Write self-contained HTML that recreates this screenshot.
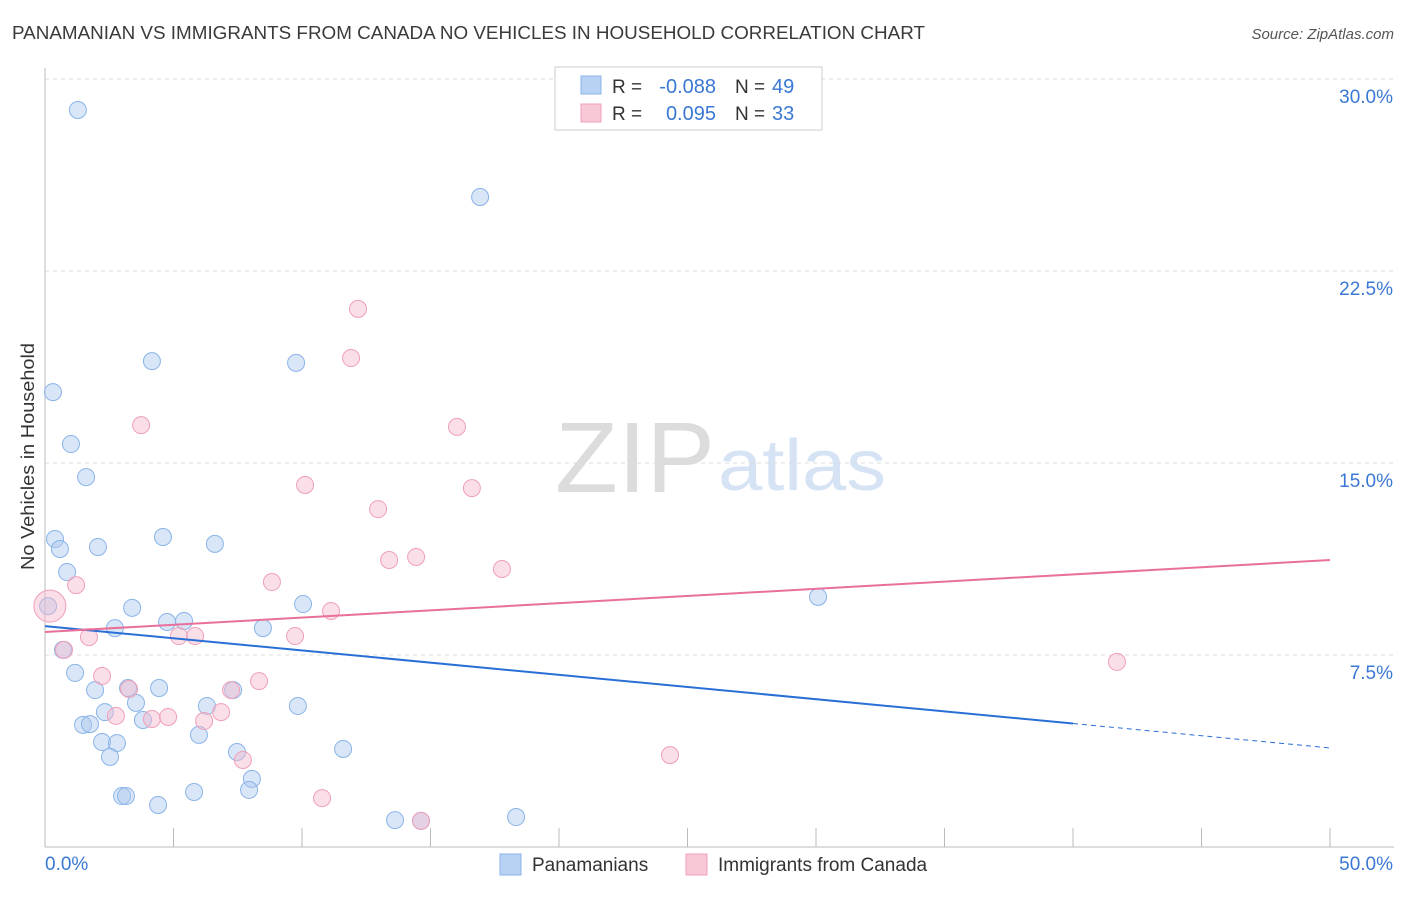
<!DOCTYPE html>
<html><head><meta charset="utf-8"><style>
body{margin:0;background:#fff;font-family:"Liberation Sans",sans-serif;}
svg text{font-family:"Liberation Sans",sans-serif;}
</style></head><body>
<svg id="chart" width="1406" height="892" xmlns="http://www.w3.org/2000/svg">
<text x="12" y="39" font-size="18" fill="#3a3a3a" textLength="913" lengthAdjust="spacingAndGlyphs">PANAMANIAN VS IMMIGRANTS FROM CANADA NO VEHICLES IN HOUSEHOLD CORRELATION CHART</text>
<text x="1394" y="39" font-size="15" fill="#555" text-anchor="end" font-style="italic">Source: ZipAtlas.com</text>
<text transform="translate(34,570) rotate(-90)" font-size="18" fill="#333" textLength="227" lengthAdjust="spacingAndGlyphs">No Vehicles in Household</text>
<g>
<text x="555" y="492" font-size="100" fill="#dcdcdc" font-family="Liberation Serif" textLength="160" lengthAdjust="spacingAndGlyphs">ZIP</text>
<text x="718" y="490" font-size="72" fill="#d6e3f5" textLength="168" lengthAdjust="spacingAndGlyphs">atlas</text>
</g>
<g id="grid"></g>
<g id="axes"></g>
<g id="marks"></g>
<g>
<rect x="555" y="67" width="267" height="63" fill="#fff" stroke="#ccc"/>
<rect x="581" y="76" width="20" height="18" fill="#b8d2f4" stroke="#8ab4e8"/>
<rect x="581" y="104" width="20" height="18" fill="#f9c8d6" stroke="#f0a0b8"/>
<text x="612" y="93" font-size="19" fill="#333">R =</text>
<text x="716" y="93" font-size="20" fill="#3a78d4" text-anchor="end">-0.088</text>
<text x="735" y="93" font-size="19" fill="#333">N =</text>
<text x="772" y="93" font-size="20" fill="#3a78d4">49</text>
<text x="612" y="120" font-size="19" fill="#333">R =</text>
<text x="716" y="120" font-size="20" fill="#3a78d4" text-anchor="end">0.095</text>
<text x="735" y="120" font-size="19" fill="#333">N =</text>
<text x="772" y="120" font-size="20" fill="#3a78d4">33</text>
</g>
<g>
<rect x="500" y="854" width="21" height="21" fill="#b8d2f4" stroke="#8ab4e8"/>
<text x="532" y="871" font-size="19" fill="#333">Panamanians</text>
<rect x="686" y="854" width="21" height="21" fill="#f9c8d6" stroke="#f0a0b8"/>
<text x="718" y="871" font-size="19" fill="#333">Immigrants from Canada</text>
</g>
</svg>
<script>
const yTicks=[7.5,15,22.5,30];
const yTickLabels=["7.5%","15.0%","22.5%","30.0%"];
const xTicks=[0,5,10,15,20,25,30,35,40,45,50];
const blueX=[1.28,16.93,0.31,4.16,9.77,1.01,1.60,0.39,0.58,2.06,4.59,6.61,0.86,0.12,3.39,10.04,30.08,2.72,4.75,5.41,8.48,0.70,1.17,1.95,3.23,4.44,7.32,3.54,6.30,9.84,2.33,1.48,1.75,3.81,2.22,2.80,5.99,7.47,11.60,2.53,8.05,7.94,5.80,3.00,3.15,4.40,13.62,14.63,18.33];
const blueY=[28.79,25.39,17.77,18.98,18.91,15.74,14.45,12.03,11.64,11.72,12.11,11.84,10.74,9.41,9.34,9.49,9.77,8.55,8.79,8.83,8.55,7.70,6.80,6.13,6.21,6.21,6.13,5.63,5.51,5.51,5.27,4.77,4.80,4.96,4.10,4.06,4.38,3.71,3.83,3.52,2.66,2.23,2.15,1.99,1.99,1.64,1.05,1.02,1.17];
const pinkX=[12.18,11.91,3.74,16.03,10.12,16.61,12.96,1.21,8.83,13.39,14.44,17.78,11.13,1.71,5.21,5.84,9.73,0.74,41.71,2.22,8.33,3.27,7.24,2.76,4.16,4.79,6.19,6.85,7.70,24.32,10.78,14.63,0.19];
const pinkY=[21.02,19.10,16.48,16.41,14.14,14.02,13.20,10.23,10.35,11.21,11.33,10.86,9.22,8.20,8.24,8.24,8.24,7.70,7.23,6.68,6.48,6.17,6.13,5.12,5.00,5.08,4.92,5.27,3.40,3.59,1.91,1.02,9.41];
const blueTrend=[8.63,3.87];
const blueSolidEnd=40;
const pinkTrend=[8.40,11.21];
const X0=45,X1=1330,Y0=847,PXPER=25.6;
const sx=v=>X0+(X1-X0)*v/50;
const sy=v=>Y0-v*PXPER;
const NS="http://www.w3.org/2000/svg";
function mk(tag,attrs,parent){const e=document.createElementNS(NS,tag);for(const k in attrs)e.setAttribute(k,attrs[k]);parent.appendChild(e);return e;}
const grid=document.getElementById('grid'),axes=document.getElementById('axes'),marks=document.getElementById('marks');
yTicks.forEach((t,i)=>{
 const l=mk('line',{x1:45,x2:1394,y1:sy(t),y2:sy(t),stroke:'#ddd','stroke-dasharray':'4,4'},grid);
 
 
 const tx=mk('text',{x:1393,y:sy(t)+24,'font-size':19,fill:'#3a78d4','text-anchor':'end'},axes);
 tx.textContent=yTickLabels[i];
 
 
});
const ax=mk('line',{x1:45,x2:45,y1:68,y2:Y0,stroke:'#bbb'},axes);


const bx=mk('line',{x1:45,x2:1394,y1:Y0,y2:Y0,stroke:'#bbb'},axes);


xTicks.forEach(t=>{
 const l=mk('line',{x1:sx(t),x2:sx(t),y1:828,y2:Y0,stroke:'#bbb'},axes);
 
 
});
const xl0=mk('text',{x:45,y:870,'font-size':19,fill:'#3a78d4'},axes);xl0.textContent='0.0%';


const xl1=mk('text',{x:1393,y:870,'font-size':19,fill:'#3a78d4','text-anchor':'end'},axes);xl1.textContent='50.0%';


blueX.forEach((x,i)=>{
 const c=mk('circle',{cx:sx(x),cy:sy(blueY[i]),r:8.5,fill:'rgba(170,200,240,0.45)',stroke:'#8ab4e8','stroke-width':1},marks);
 
 
});
pinkX.forEach((x,i)=>{
 const big=i===pinkX.length-1;
 const c=mk('circle',{cx:sx(x),cy:sy(pinkY[i]),r:big?16:8.5,fill:'rgba(245,185,205,0.45)',stroke:'#f0a0b8','stroke-width':1},marks);
 
 
});
const bt=v=>blueTrend[0]+(blueTrend[1]-blueTrend[0])*v/50;
const b1=mk('line',{x1:sx(0),y1:sy(bt(0)),x2:sx(blueSolidEnd),y2:sy(bt(blueSolidEnd)),stroke:'#2a6fd6','stroke-width':2},marks);


const b2=mk('line',{x1:sx(blueSolidEnd),y1:sy(bt(blueSolidEnd)),x2:sx(50),y2:sy(bt(50)),stroke:'#2a6fd6','stroke-width':1,'stroke-dasharray':'5,4'},marks);


const p1=mk('line',{x1:sx(0),y1:sy(pinkTrend[0]),x2:sx(50),y2:sy(pinkTrend[1]),stroke:'#e8709a','stroke-width':2},marks);


</script>
</body></html>
